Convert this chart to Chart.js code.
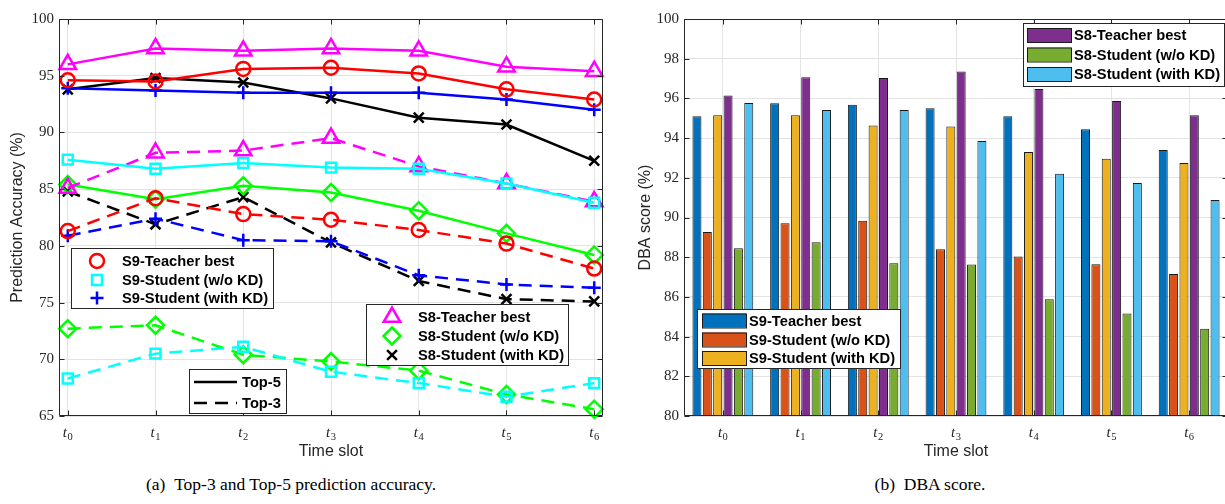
<!DOCTYPE html>
<html>
<head>
<meta charset="utf-8">
<script src="https://cdn.jsdelivr.net/npm/chart.js@4.4.1/dist/chart.umd.min.js"></script>
<style>
html,body{margin:0;padding:0;background:#fff;width:1225px;height:504px;overflow:hidden;position:relative}
#a{position:absolute;left:0;top:0}
#b{position:absolute;left:615px;top:0}
.cap{position:absolute;top:475px;width:500px;text-align:center;font-family:"Liberation Serif",serif;font-size:17.5px;line-height:18px;color:#000;white-space:nowrap}
</style>
</head>
<body>
<canvas id="a" width="615" height="470"></canvas>
<canvas id="b" width="620" height="470"></canvas>
<div class="cap" style="left:41px">(a)&ensp;Top-3 and Top-5 prediction accuracy.</div>
<div class="cap" style="left:680px">(b)&ensp;DBA score.</div>
<script>
// ---------- data ----------
const timeSlots = ['t0','t1','t2','t3','t4','t5','t6'];

// (a) prediction accuracy, Top-5 (solid)
const s9TeacherTop5     = [94.6, 94.5, 95.6, 95.7, 95.2, 93.8, 92.9];
const s9StudentNoKdTop5 = [87.6, 86.8, 87.3, 86.9, 86.8, 85.5, 83.8];
const s9StudentKdTop5   = [93.9, 93.7, 93.5, 93.5, 93.5, 92.9, 92.0];
const s8TeacherTop5     = [96.0, 97.4, 97.2, 97.4, 97.2, 95.8, 95.4];
const s8StudentNoKdTop5 = [85.4, 84.1, 85.3, 84.7, 83.1, 81.1, 79.2];
const s8StudentKdTop5   = [93.8, 94.8, 94.4, 93.0, 91.3, 90.7, 87.5];
// (a) prediction accuracy, Top-3 (dashed)
const s9TeacherTop3     = [81.3, 84.2, 82.8, 82.3, 81.4, 80.2, 78.0];
const s9StudentNoKdTop3 = [68.3, 70.5, 71.1, 68.9, 67.9, 66.7, 67.9];
const s9StudentKdTop3   = [80.9, 82.4, 80.5, 80.4, 77.4, 76.6, 76.3];
const s8TeacherTop3     = [85.1, 88.2, 88.4, 89.5, 87.0, 85.5, 83.9];
const s8StudentNoKdTop3 = [72.7, 73.0, 70.4, 69.8, 69.0, 66.9, 65.6];
const s8StudentKdTop3   = [84.8, 81.9, 84.3, 80.3, 76.9, 75.3, 75.1];

// (b) DBA score
const dbaS9Teacher     = [95.10, 95.75, 95.68, 95.50, 95.10, 94.44, 93.40];
const dbaS9StudentNoKd = [89.27, 89.71, 89.84, 88.40, 88.04, 87.64, 87.15];
const dbaS9StudentKd   = [95.15, 95.15, 94.64, 94.59, 93.30, 92.96, 92.75];
const dbaS8Teacher     = [96.14, 97.06, 97.03, 97.36, 96.47, 95.87, 95.15];
const dbaS8StudentNoKd = [88.45, 88.75, 87.69, 87.63, 85.88, 85.17, 84.40];
const dbaS8StudentKd   = [95.77, 95.42, 95.42, 93.85, 92.21, 91.74, 90.88];

const accTicks = [65, 70, 75, 80, 85, 90, 95, 100];
const dbaTicks = [80, 82, 84, 86, 88, 90, 92, 94, 96, 98, 100];

// ---------- styles ----------
const AX = '#262626';
const GRID = '#e3e3e3';
const DASH = [13, 8];
const LW = 2.5;

const lineSeries = [
  {label:'S9-Teacher best',       color:'#ff0000', style:'circle',   r:7,   top5:s9TeacherTop5,     top3:s9TeacherTop3},
  {label:'S9-Student (w/o KD)',   color:'#00ffff', style:'rect',     r:7,   top5:s9StudentNoKdTop5, top3:s9StudentNoKdTop3},
  {label:'S9-Student (with KD)',  color:'#0000ff', style:'cross',    r:6.5, top5:s9StudentKdTop5,   top3:s9StudentKdTop3},
  {label:'S8-Teacher best',       color:'#ff00ff', style:'triangle', r:9.5, top5:s8TeacherTop5,     top3:s8TeacherTop3},
  {label:'S8-Student (w/o KD)',   color:'#00ff00', style:'rectRot',  r:8.5, top5:s8StudentNoKdTop5, top3:s8StudentNoKdTop3},
  {label:'S8-Student (with KD)',  color:'#000000', style:'crossRot', r:7,   top5:s8StudentKdTop5,   top3:s8StudentKdTop3}
];

const barSeries = [
  {label:'S9-Teacher best',      color:'#0072BD', data:dbaS9Teacher},
  {label:'S9-Student (w/o KD)',  color:'#D95319', data:dbaS9StudentNoKd},
  {label:'S9-Student (with KD)', color:'#EDB120', data:dbaS9StudentKd},
  {label:'S8-Teacher best',      color:'#7E2F8E', data:dbaS8Teacher},
  {label:'S8-Student (w/o KD)',  color:'#77AC30', data:dbaS8StudentNoKd},
  {label:'S8-Student (with KD)', color:'#4DBEEE', data:dbaS8StudentKd}
];

// ---------- helpers ----------
function drawMarker(ctx, style, r, color, x, y) {
  ctx.save();
  ctx.strokeStyle = color; ctx.lineWidth = LW; ctx.setLineDash([]);
  ctx.beginPath();
  const s = Math.SQRT1_2 * r;
  if (style === 'circle') { ctx.arc(x, y, r, 0, Math.PI * 2); }
  else if (style === 'rect') { ctx.rect(x - s, y - s, 2 * s, 2 * s); }
  else if (style === 'triangle') {
    for (let k = 0; k < 3; k++) {
      const a = k * 2 * Math.PI / 3;
      const px = x + Math.sin(a) * r, py = y - Math.cos(a) * r;
      if (k === 0) ctx.moveTo(px, py); else ctx.lineTo(px, py);
    }
    ctx.closePath();
  }
  else if (style === 'rectRot') { ctx.moveTo(x, y - r); ctx.lineTo(x + r, y); ctx.lineTo(x, y + r); ctx.lineTo(x - r, y); ctx.closePath(); }
  else if (style === 'cross') { ctx.moveTo(x - r, y); ctx.lineTo(x + r, y); ctx.moveTo(x, y - r); ctx.lineTo(x, y + r); }
  else if (style === 'crossRot') { ctx.moveTo(x - s, y - s); ctx.lineTo(x + s, y + s); ctx.moveTo(x + s, y - s); ctx.lineTo(x - s, y + s); }
  ctx.stroke();
  ctx.restore();
}

function legendFrame(ctx, x, y, w, h) {
  ctx.save();
  ctx.fillStyle = '#fff'; ctx.fillRect(x, y, w, h);
  ctx.strokeStyle = AX; ctx.lineWidth = 1; ctx.setLineDash([]);
  ctx.strokeRect(x + 0.5, y + 0.5, w, h);
  ctx.restore();
}

function legendText(ctx, text, x, y) {
  ctx.save();
  ctx.fillStyle = '#000';
  ctx.font = 'bold 14.7px "Liberation Sans", Arial, sans-serif';
  ctx.textBaseline = 'middle'; ctx.textAlign = 'left';
  ctx.fillText(text, x, y + 1);
  ctx.restore();
}

const boxPlugin = {
  id: 'box',
  afterDatasetsDraw(chart) {
    const {ctx, chartArea: a, scales: {x, y}} = chart;
    ctx.save();
    ctx.strokeStyle = AX; ctx.lineWidth = 1; ctx.setLineDash([]);
    const L = Math.round(a.left) + 0.5, R = Math.round(a.right) - 0.5;
    const T = Math.round(a.top) + 0.5, B = Math.round(a.bottom) - 0.5;
    ctx.beginPath();
    ctx.rect(L, T, R - L, B - T);
    const tl = 5;
    x.ticks.forEach((t, i) => {
      const px = Math.round(x.getPixelForTick(i)) + 0.5;
      ctx.moveTo(px, B); ctx.lineTo(px, B - tl);
      ctx.moveTo(px, T); ctx.lineTo(px, T + tl);
    });
    y.ticks.forEach((t, i) => {
      const py = Math.round(y.getPixelForTick(i)) + 0.5;
      ctx.moveTo(L, py); ctx.lineTo(L + tl, py);
      ctx.moveTo(R, py); ctx.lineTo(R - tl, py);
    });
    ctx.stroke();
    ctx.restore();
  }
};

const xLabelPlugin = {
  id: 'xlabels',
  afterDraw(chart) {
    const ctx = chart.ctx, xs = chart.scales.x;
    ctx.save();
    ctx.fillStyle = AX; ctx.textBaseline = 'alphabetic'; ctx.textAlign = 'left';
    timeSlots.forEach((lab, i) => {
      const px = xs.getPixelForValue(i);
      const main = lab.charAt(0), sub = lab.slice(1);
      ctx.font = 'italic 15px "Liberation Serif", serif';
      const wt = ctx.measureText(main).width;
      ctx.font = '10.5px "Liberation Serif", serif';
      const ws = ctx.measureText(sub).width;
      const x0 = px - (wt + ws + 0.5) / 2;
      ctx.font = 'italic 15px "Liberation Serif", serif';
      ctx.fillText(main, x0, 437);
      ctx.font = '10.5px "Liberation Serif", serif';
      ctx.fillText(sub, x0 + wt + 0.5, 440);
    });
    ctx.restore();
  }
};

const legendPluginA = {
  id: 'legendA',
  afterDraw(chart) {
    const ctx = chart.ctx;
    // S9 legend
    legendFrame(ctx, 71, 248, 202, 60);
    [261, 280, 298].forEach((yy, k) => {
      const s = lineSeries[k];
      drawMarker(ctx, s.style, s.r, s.color, 97, yy);
      legendText(ctx, s.label, 122, yy);
    });
    // S8 legend
    legendFrame(ctx, 366, 304, 202, 61);
    [317, 336, 355].forEach((yy, k) => {
      const s = lineSeries[k + 3];
      drawMarker(ctx, s.style, s.r, s.color, 392, yy);
      legendText(ctx, s.label, 418, yy);
    });
    // Top-5 / Top-3 legend
    legendFrame(ctx, 189, 369, 97, 44);
    ctx.save();
    ctx.strokeStyle = '#000'; ctx.lineWidth = LW;
    ctx.beginPath(); ctx.moveTo(194, 382); ctx.lineTo(237, 382); ctx.stroke();
    ctx.setLineDash(DASH);
    ctx.beginPath(); ctx.moveTo(194, 403); ctx.lineTo(237, 403); ctx.stroke();
    ctx.restore();
    legendText(ctx, 'Top-5', 242, 382);
    legendText(ctx, 'Top-3', 242, 403);
  }
};

const legendPluginB = {
  id: 'legendB',
  afterDraw(chart) {
    const ctx = chart.ctx;
    function sw(color, x, y) {
      ctx.save();
      ctx.fillStyle = color; ctx.fillRect(x, y - 7, 44, 14);
      ctx.strokeStyle = '#1a1a1a'; ctx.lineWidth = 1;
      ctx.strokeRect(x + 0.5, y - 7 + 0.5, 44, 14);
      ctx.restore();
    }
    // S8 legend (top right)
    legendFrame(ctx, 408, 23, 201, 63);
    [35, 54.5, 74].forEach((yy, k) => {
      const s = barSeries[k + 3];
      sw(s.color, 412, yy);
      legendText(ctx, s.label, 459, yy);
    });
    // S9 legend (bottom left)
    legendFrame(ctx, 82, 309, 203, 59);
    [320.5, 339.5, 358].forEach((yy, k) => {
      const s = barSeries[k];
      sw(s.color, 87, yy);
      legendText(ctx, s.label, 134, yy);
    });
  }
};

// ---------- chart (a) ----------
const lineDatasets = [];
lineSeries.forEach(s => {
  [['top5', []], ['top3', DASH]].forEach(([key, dash]) => {
    lineDatasets.push({
      label: s.label + ' ' + key,
      data: s[key].map((v, i) => ({x: i, y: v})),
      borderColor: s.color,
      backgroundColor: 'rgba(0,0,0,0)',
      borderWidth: LW,
      borderDash: dash,
      tension: 0,
      fill: false,
      pointStyle: s.style,
      pointRadius: s.r,
      pointBorderWidth: LW,
      pointBorderColor: s.color,
      pointBackgroundColor: 'rgba(0,0,0,0)',
      clip: false
    });
  });
});

const titleFont = {family: '"Liberation Sans", Arial, sans-serif', size: 16};
const tickFont = {family: '"Liberation Serif", serif', size: 15};

new Chart(document.getElementById('a'), {
  type: 'line',
  data: {datasets: lineDatasets},
  options: {
    responsive: false, animation: false, events: [],
    layout: {padding: {left: 0, top: 19, right: 12, bottom: 0}},
    plugins: {legend: {display: false}, tooltip: {enabled: false}},
    scales: {
      x: {
        type: 'linear', min: -0.1, max: 6.1,
        afterBuildTicks: s => { s.ticks = timeSlots.map((_, i) => ({value: i})); },
        afterFit: s => { s.height = 54; },
        ticks: {display: false},
        grid: {color: GRID, drawTicks: false, lineWidth: 1},
        border: {display: false},
        title: {display: true, text: 'Time slot', font: titleFont, color: AX, padding: {top: 0, bottom: 8.4}}
      },
      y: {
        type: 'linear', min: 65, max: 100,
        afterBuildTicks: s => { s.ticks = accTicks.map(v => ({value: v})); },
        afterFit: s => { s.width = 59; },
        ticks: {font: tickFont, color: AX, padding: 5},
        grid: {color: GRID, drawTicks: false, lineWidth: 1},
        border: {display: false},
        title: {display: true, text: 'Prediction Accuracy (%)', font: titleFont, color: AX, padding: {top: 8.4, bottom: 0}}
      }
    }
  },
  plugins: [boxPlugin, xLabelPlugin, legendPluginA]
});

// ---------- chart (b) ----------
new Chart(document.getElementById('b'), {
  type: 'bar',
  data: {
    labels: timeSlots,
    datasets: barSeries.map(s => ({
      label: s.label,
      data: s.data,
      backgroundColor: s.color,
      borderColor: '#1a1a1a',
      borderWidth: 1,
      borderSkipped: 'start',
      base: 80,
      categoryPercentage: 0.8,
      barPercentage: 0.87
    }))
  },
  options: {
    responsive: false, animation: false, events: [],
    layout: {padding: {left: 0, top: 19, right: 7, bottom: 0}},
    plugins: {legend: {display: false}, tooltip: {enabled: false}},
    scales: {
      x: {
        type: 'category', offset: true,
        afterFit: s => { s.height = 54; },
        ticks: {display: false},
        grid: {color: GRID, drawTicks: false, offset: false, lineWidth: 1},
        border: {display: false},
        title: {display: true, text: 'Time slot', font: titleFont, color: AX, padding: {top: 0, bottom: 8.4}}
      },
      y: {
        type: 'linear', min: 80, max: 100, beginAtZero: false,
        afterBuildTicks: s => { s.ticks = dbaTicks.map(v => ({value: v})); },
        afterFit: s => { s.width = 69; },
        ticks: {font: tickFont, color: AX, padding: 5},
        grid: {color: GRID, drawTicks: false, lineWidth: 1},
        border: {display: false},
        title: {display: true, text: 'DBA score (%)', font: titleFont, color: AX, padding: {top: 21.4, bottom: 0}}
      }
    }
  },
  plugins: [boxPlugin, xLabelPlugin, legendPluginB]
});
</script>
</body>
</html>
